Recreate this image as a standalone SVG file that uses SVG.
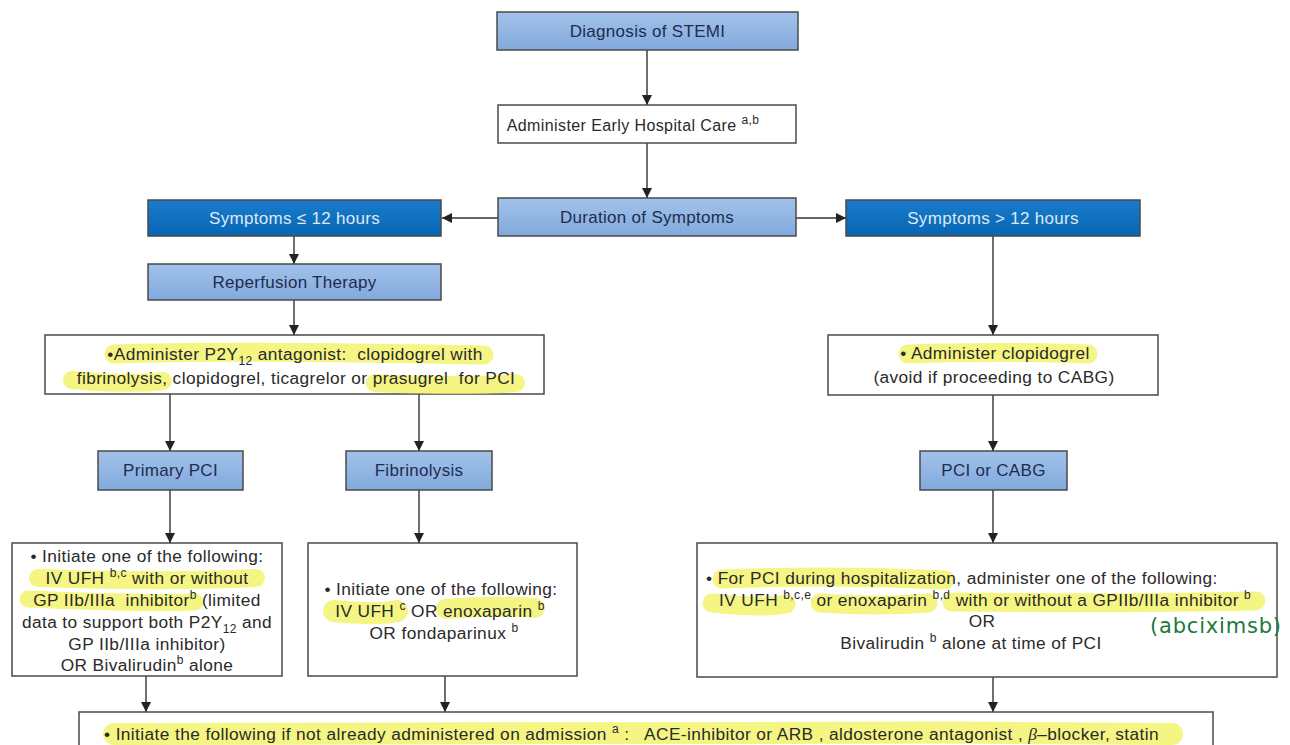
<svg xmlns="http://www.w3.org/2000/svg" width="1290" height="745" viewBox="0 0 1290 745">
  <defs>
    <linearGradient id="midBlue" x1="0" y1="0" x2="0" y2="1">
      <stop offset="0" stop-color="#a2c2ea"/>
      <stop offset="1" stop-color="#82a9dc"/>
    </linearGradient>
    <linearGradient id="deepBlue" x1="0" y1="0" x2="0" y2="1">
      <stop offset="0" stop-color="#1a7ccb"/>
      <stop offset="1" stop-color="#0866b4"/>
    </linearGradient>
    <marker id="arrow" viewBox="0 0 10 10" refX="10" refY="5" markerWidth="10" markerHeight="10" markerUnits="userSpaceOnUse" orient="auto">
      <path d="M0,0 L10,5 L0,10 Z" fill="#222"/>
    </marker>
  </defs>
  <style>
    text { font-family: "Liberation Sans", Arial, Helvetica, sans-serif; font-size: 17.3px; letter-spacing: 0.4px; fill: #2a2a2a; }
    .mid { text-anchor: middle; }
    .head { fill: #1d2d4f; font-size: 17px; letter-spacing: 0.3px; }
    .light { fill: #dce9f8; font-size: 17px; letter-spacing: 0.3px; }
    .sup { font-size: 12px; }
    .box { stroke: #4a4a4a; stroke-width: 1.5; }
    .plain { fill: #ffffff; }
    .blue { fill: url(#midBlue); }
    .dark { fill: url(#deepBlue); }
    .hl { fill: none; stroke: #f1f14e; stroke-opacity: 0.7; stroke-linecap: round; stroke-linejoin: round; }
    .conn path { fill: none; stroke: #333; stroke-width: 1.4; marker-end: url(#arrow); }
    .note { font-family: "DejaVu Sans", sans-serif; font-size: 21px; fill: #1d7a3c; letter-spacing: 0.8px; }
  </style>

  <rect width="1290" height="745" fill="#ffffff"/>

  <!-- connectors -->
  <g id="connectors" class="conn">
    <path d="M647,50 V105"/>
    <path d="M647,143 V198"/>
    <path d="M498,218 H442"/>
    <path d="M796,218 H846"/>
    <path d="M294,236 V264"/>
    <path d="M294,300 V335"/>
    <path d="M170,394 V451"/>
    <path d="M419,394 V451"/>
    <path d="M993,236 V335"/>
    <path d="M993,395 V451"/>
    <path d="M170,490 V543"/>
    <path d="M419,490 V543"/>
    <path d="M993,490 V543"/>
    <path d="M146,676 V712"/>
    <path d="M445,676 V712"/>
    <path d="M993,677 V712"/>
  </g>

  <!-- top of the pathway -->
  <g id="diagnosis">
    <rect class="box blue" x="497" y="12" width="301" height="38"/>
    <text class="head mid" x="647.5" y="37">Diagnosis of STEMI</text>
  </g>
  <g id="early-care">
    <rect class="box plain" x="498" y="105" width="298" height="38"/>
    <text class="mid" x="633" y="131" style="font-size:16px">Administer Early Hospital Care <tspan class="sup" dy="-7">a,b</tspan></text>
  </g>
  <g id="duration">
    <rect class="box blue" x="498" y="198" width="298" height="38"/>
    <text class="head mid" x="647" y="223">Duration of Symptoms</text>
  </g>

  <!-- 12 hours or less -->
  <g id="symptoms-short">
    <rect class="box dark" x="148" y="200" width="293" height="36"/>
    <text class="light mid" x="294.5" y="224">Symptoms ≤ 12 hours</text>
  </g>
  <g id="reperfusion">
    <rect class="box blue" x="148" y="264" width="293" height="36"/>
    <text class="head mid" x="294.5" y="288">Reperfusion Therapy</text>
  </g>
  <g id="p2y12">
    <rect class="box plain" x="45" y="335" width="499" height="59"/>
    <path class="hl" stroke-width="19" d="M114,354 C200,351 330,352 484,355"/>
    <path class="hl" stroke-width="18" d="M72,380 C100,383 140,384 163,381"/>
    <path class="hl" stroke-width="18" d="M375,383 C420,385 480,386 516,383"/>
    <text class="mid" x="295" y="360">•Administer P2Y<tspan class="sup" dy="5">12</tspan><tspan dy="-5"> antagonist:&#160; clopidogrel with</tspan></text>
    <text class="mid" x="296" y="384">fibrinolysis, clopidogrel, ticagrelor or prasugrel&#160; for PCI</text>
  </g>
  <g id="primary-pci">
    <rect class="box blue" x="98" y="451" width="145" height="39"/>
    <text class="head mid" x="170.5" y="476">Primary PCI</text>
  </g>
  <g id="fibrinolysis">
    <rect class="box blue" x="346" y="451" width="146" height="39"/>
    <text class="head mid" x="419" y="476">Fibrinolysis</text>
  </g>
  <g id="primary-pci-drugs">
    <rect class="box plain" x="12" y="543" width="270" height="133"/>
    <path class="hl" stroke-width="18" d="M38,578 C100,580 180,582 256,578"/>
    <path class="hl" stroke-width="17" d="M28,599 C80,601 140,604 195,602"/>
    <text class="mid" x="147" y="562">• Initiate one of the following:</text>
    <text class="mid" x="147" y="584">IV UFH <tspan class="sup" dy="-7">b,c</tspan><tspan dy="7"> with or without</tspan></text>
    <text class="mid" x="147" y="606">GP IIb/IIIa&#160; inhibitor<tspan class="sup" dy="-7">b</tspan><tspan dy="7"> (limited</tspan></text>
    <text class="mid" x="147" y="628">data to support both P2Y<tspan class="sup" dy="5">12</tspan><tspan dy="-5"> and</tspan></text>
    <text class="mid" x="147" y="650">GP IIb/IIIa inhibitor)</text>
    <text class="mid" x="147" y="671">OR Bivalirudin<tspan class="sup" dy="-7">b</tspan><tspan dy="7"> alone</tspan></text>
  </g>
  <g id="fibrinolysis-drugs">
    <rect class="box plain" x="308" y="543" width="269" height="133"/>
    <path class="hl" stroke-width="22" d="M334,611 C355,613 380,615 397,611"/>
    <path class="hl" stroke-width="20" d="M446,609 C475,607 510,606 535,608"/>
    <text class="mid" x="441" y="595">• Initiate one of the following:</text>
    <text class="mid" x="440" y="617">IV UFH <tspan class="sup" dy="-7">c</tspan><tspan dy="7"> OR enoxaparin </tspan><tspan class="sup" dy="-7">b</tspan></text>
    <text class="mid" x="444" y="639">OR fondaparinux <tspan class="sup" dy="-7">b</tspan></text>
  </g>

  <!-- more than 12 hours -->
  <g id="symptoms-long">
    <rect class="box dark" x="846" y="200" width="294" height="36"/>
    <text class="light mid" x="993" y="224">Symptoms &gt; 12 hours</text>
  </g>
  <g id="clopidogrel">
    <rect class="box plain" x="828" y="335" width="330" height="60"/>
    <path class="hl" stroke-width="19" d="M908,354 C960,352 1040,352 1088,354"/>
    <text class="mid" x="995" y="359">• Administer clopidogrel</text>
    <text class="mid" x="994" y="383">(avoid if proceeding to CABG)</text>
  </g>
  <g id="pci-or-cabg">
    <rect class="box blue" x="920" y="451" width="147" height="39"/>
    <text class="head mid" x="993.5" y="476">PCI or CABG</text>
  </g>
  <g id="hospital-pci-drugs">
    <rect class="box plain" x="697" y="543" width="580" height="134"/>
    <path class="hl" stroke-width="19" d="M722,579 C800,576 880,577 945,580"/>
    <path class="hl" stroke-width="19" d="M712,603 C740,606 770,607 786,604"/>
    <path class="hl" stroke-width="19" d="M820,603 C850,605 890,606 928,603"/>
    <path class="hl" stroke-width="19" d="M952,602 C1040,603 1160,603 1256,601"/>
    <text x="706" y="584">• For PCI during hospitalization, administer one of the following:</text>
    <text x="719" y="606">IV UFH <tspan class="sup" dy="-7">b,c,e</tspan><tspan dy="7"> or enoxaparin </tspan><tspan class="sup" dy="-7">b,d</tspan><tspan dy="7"> with or without a GPIIb/IIIa inhibitor </tspan><tspan class="sup" dy="-7">b</tspan></text>
    <text class="mid" x="982" y="627">OR</text>
    <text class="mid" x="971" y="649">Bivalirudin <tspan class="sup" dy="-7">b</tspan><tspan dy="7"> alone at time of PCI</tspan></text>
  </g>
  <text class="note" x="1150" y="633">(abciximsb)</text>

  <!-- in-hospital therapy for all patients -->
  <g id="secondary-prevention">
    <rect class="box plain" x="79" y="712" width="1134" height="50"/>
    <path class="hl" stroke-width="22" d="M114,734 C400,731 800,731 1172,734"/>
    <text x="104" y="740">• Initiate the following if not already administered on admission <tspan class="sup" dy="-7">a</tspan><tspan dy="7"> :&#160;&#160; ACE-inhibitor or ARB , aldosterone antagonist , </tspan><tspan style="font-family:'Liberation Serif',serif;font-style:italic">β</tspan>–blocker, statin</text>
  </g>
</svg>
